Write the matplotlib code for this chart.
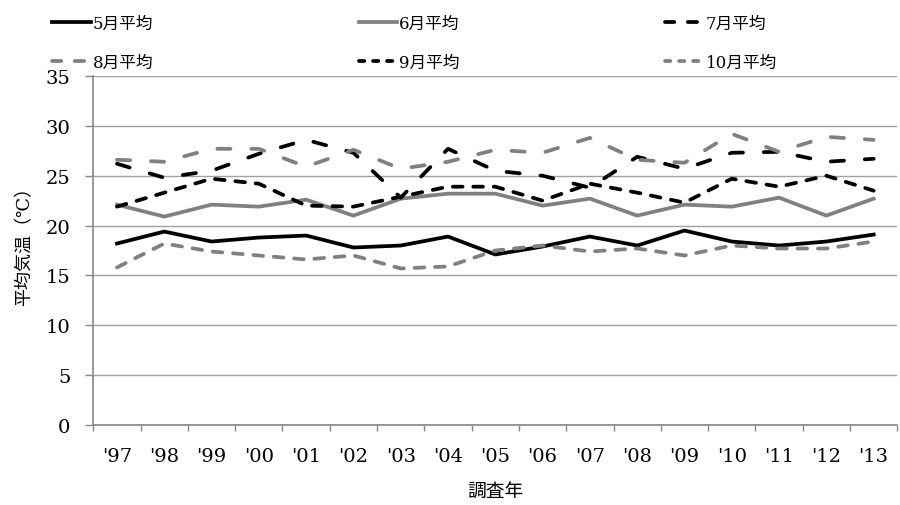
import matplotlib
matplotlib.use("Agg")
import matplotlib.pyplot as plt
from matplotlib.ticker import MultipleLocator, FixedLocator

plt.rcParams['font.family'] = ['DejaVu Serif', 'Noto Sans CJK JP']
plt.rcParams['lines.scale_dashes'] = False

# =========================
# DATA
# =========================
years = ["'97", "'98", "'99", "'00", "'01", "'02", "'03", "'04", "'05",
         "'06", "'07", "'08", "'09", "'10", "'11", "'12", "'13"]

may = [18.2, 19.4, 18.4, 18.8, 19.0, 17.8, 18.0, 18.9, 17.1,
       17.9, 18.9, 18.0, 19.5, 18.4, 18.0, 18.4, 19.1]
jun = [22.1, 20.9, 22.1, 21.9, 22.6, 21.0, 22.7, 23.2, 23.2,
       22.0, 22.7, 21.0, 22.1, 21.9, 22.8, 21.0, 22.7]
jul = [26.2, 24.8, 25.5, 27.2, 28.6, 27.3, 22.8, 27.7, 25.5,
       25.0, 23.8, 26.9, 25.7, 27.3, 27.4, 26.4, 26.7]
aug = [26.6, 26.4, 27.7, 27.7, 25.9, 27.6, 25.7, 26.4, 27.6,
       27.3, 28.8, 26.6, 26.3, 29.2, 27.4, 28.9, 28.6]
sep = [21.9, 23.3, 24.7, 24.2, 22.0, 21.9, 22.9, 23.9, 23.9,
       22.5, 24.2, 23.3, 22.3, 24.7, 23.9, 25.0, 23.5]
octo = [15.8, 18.2, 17.4, 17.0, 16.6, 17.0, 15.7, 15.9, 17.5,
        18.0, 17.4, 17.7, 17.0, 18.0, 17.7, 17.7, 18.4]

labels = ["5月平均", "6月平均", "7月平均", "8月平均", "9月平均", "10月平均"]

# =========================
# PLOT
# =========================
fig = plt.figure(figsize=(9, 5.06), dpi=100)
ax = fig.add_axes([0.1037, 0.1581, 0.8933, 0.6897])

x = list(range(len(years)))
lw = 2.7
long_dash = (9.5, 15)
short_dash = (7, 7.7)

l1, = ax.plot(x, may, color='black', lw=lw, label=labels[0])
l2, = ax.plot(x, jun, color='#808080', lw=lw, label=labels[1])
l3, = ax.plot(x, jul, color='black', lw=lw, dashes=long_dash,
              dash_capstyle='round', label=labels[2])
l4, = ax.plot(x, aug, color='#808080', lw=lw, dashes=long_dash,
              dash_capstyle='round', label=labels[3])
l5, = ax.plot(x, sep, color='black', lw=lw, dashes=short_dash,
              dash_capstyle='round', label=labels[4])
l6, = ax.plot(x, octo, color='#808080', lw=lw, dashes=short_dash,
              dash_capstyle='round', label=labels[5])

ax.set_xlim(-0.5, len(years) - 0.5)
ax.set_ylim(0, 35)
ax.yaxis.set_major_locator(MultipleLocator(5))
ax.set_xticks(x)
ax.set_xticklabels(years)
ax.xaxis.set_minor_locator(FixedLocator([i - 0.5 for i in range(len(years) + 1)]))

ax.grid(axis='y', color='#a0a0a0', lw=1)
ax.set_axisbelow(True)
for s in ['top', 'right']:
    ax.spines[s].set_visible(False)
for s in ['left', 'bottom']:
    ax.spines[s].set_color('#868686')
    ax.spines[s].set_linewidth(1.2)

ax.tick_params(axis='y', length=5.5, width=1, color='#868686', pad=11, labelsize=14)
ax.tick_params(axis='x', which='major', length=0, pad=16, labelsize=14)
ax.tick_params(axis='x', which='minor', length=4.5, width=1, color='#868686')

ax.set_xlabel("調査年", fontsize=13.5, va='top')
ax.xaxis.set_label_coords(0.5, -0.163)
ax.set_ylabel("平均気温（℃）", fontsize=13)
ax.yaxis.set_label_coords(-0.075, 0.526)

# legend: row 1 = 5,6,7月, row 2 = 8,9,10月
handles = [l1, l4, l2, l5, l3, l6]
leg = fig.legend(handles=handles, labels=[h.get_label() for h in handles],
                 ncol=3, loc='upper left', bbox_to_anchor=(0.058, 0.968),
                 frameon=False, fontsize=12, handlelength=2.3, handletextpad=0.15,
                 columnspacing=12.3, labelspacing=1.3, borderpad=0, borderaxespad=0)

# shorter dash pattern in the legend keys
for line, orig in zip(leg.get_lines(), handles):
    if orig in (l3, l4):
        line.set_dashes((6.7, 9.7))
    elif orig in (l5, l6):
        line.set_dashes((3.8, 6.3))

fig.savefig("out.png", dpi=100)
